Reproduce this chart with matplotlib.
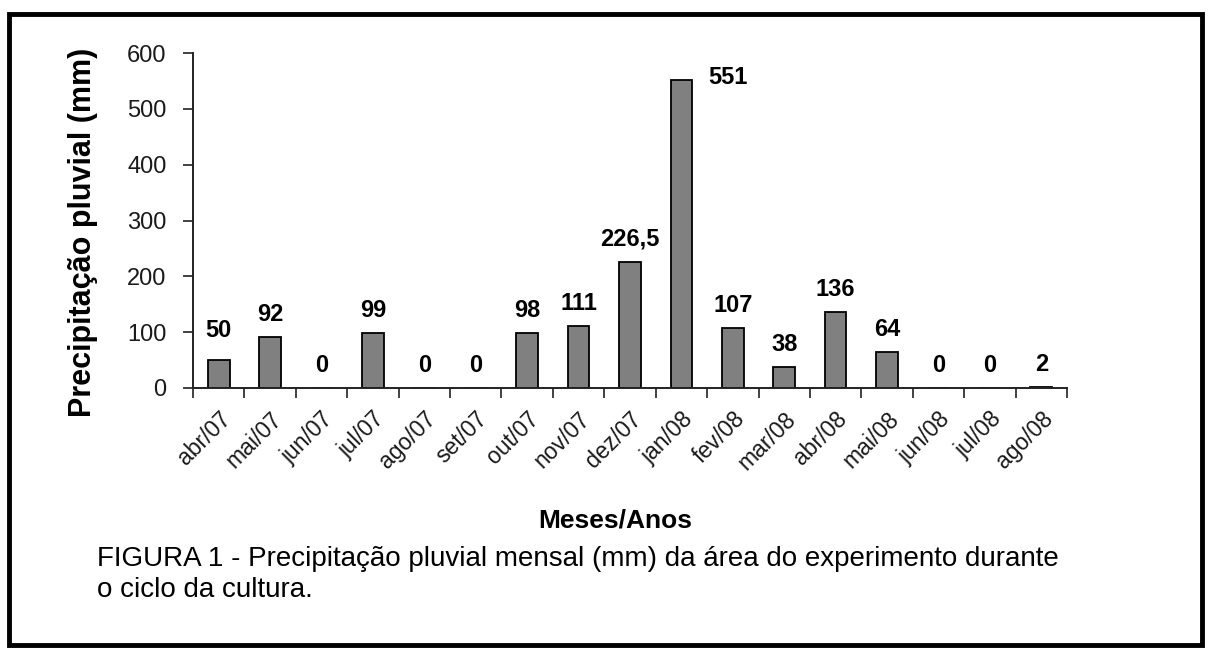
import matplotlib
matplotlib.use("Agg")
import matplotlib.pyplot as plt
from matplotlib.patches import Rectangle

plt.rcParams['font.family'] = ['Liberation Sans', 'DejaVu Sans']

months = ["abr/07", "mai/07", "jun/07", "jul/07", "ago/07", "set/07", "out/07",
          "nov/07", "dez/07", "jan/08", "fev/08", "mar/08", "abr/08", "mai/08",
          "jun/08", "jul/08", "ago/08"]
rain = [50, 92, 0, 99, 0, 0, 98, 111, 226.5, 551, 107, 38, 136, 64, 0, 0, 2]
labels = ["50", "92", "0", "99", "0", "0", "98", "111", "226,5", "551", "107",
          "38", "136", "64", "0", "0", "2"]
yticks = [0, 100, 200, 300, 400, 500, 600]

W, H = 1211, 652
fig = plt.figure(figsize=(W / 100, H / 100), dpi=100)
fig.patch.set_facecolor("white")

# outer frame
fig.patches.append(Rectangle((9 / W, 1 - 645 / H), (1202 - 9) / W, (645 - 14) / H,
                             transform=fig.transFigure, fill=False,
                             edgecolor="black", linewidth=3.5))

ax = fig.add_axes([193 / W, 1 - 388 / H, (1067 - 193) / W, (388 - 53) / H])
x = list(range(len(months)))
ax.bar(x, rain, width=0.42, color="#808080", edgecolor="black", linewidth=1.3, zorder=2)

ax.set_xlim(-0.5, len(months) - 0.5)
ax.set_ylim(0, 600)
ax.set_yticks(yticks)
ax.set_yticklabels([str(v) for v in yticks], fontsize=17, color="#1a1a1a")

bounds = [i - 0.5 for i in range(len(months) + 1)]
ax.set_xticks(bounds)
ax.set_xticklabels([])
ax.set_xticks(x, minor=True)
ax.set_xticklabels(months, minor=True, rotation=45, ha="right", va="top",
                   rotation_mode="anchor", fontsize=16.5, color="#1a1a1a")
ax.tick_params(axis="x", which="minor", length=0, pad=14)
ax.tick_params(axis="x", which="major", length=7, width=1.3, direction="out", color="#333333")
ax.tick_params(axis="y", length=7, width=1.3, direction="out", color="#333333", pad=12)

for s in ["top", "right"]:
    ax.spines[s].set_visible(False)
for s in ["left", "bottom"]:
    ax.spines[s].set_linewidth(1.4)
    ax.spines[s].set_color("#222222")

for xi, v, lab in zip(x, rain, labels):
    if lab == "551":
        ax.annotate(lab, (xi, v), xytext=(19, 2), textcoords="offset points",
                    ha="left", va="center", fontsize=17, fontweight="bold")
    elif lab == "50":
        ax.annotate(lab, (xi, v), xytext=(0, 13), textcoords="offset points",
                    ha="center", va="bottom", fontsize=17, fontweight="bold")
    else:
        ax.annotate(lab, (xi, v), xytext=(0, 8), textcoords="offset points",
                    ha="center", va="bottom", fontsize=17, fontweight="bold")

fig.text(83 / W, 1 - 232 / H, "Precipitação pluvial (mm)", rotation=90,
         ha="center", va="center", fontsize=22, fontweight="bold")
fig.text(615 / W, 1 - 521 / H, "Meses/Anos", ha="center", va="center",
         fontsize=19, fontweight="bold")
fig.text(97 / W, 1 - 559 / H,
         "FIGURA 1 - Precipitação pluvial mensal (mm) da área do experimento durante",
         ha="left", va="center", fontsize=20)
fig.text(97 / W, 1 - 590 / H, "o ciclo da cultura.", ha="left", va="center", fontsize=20)

fig.savefig("out.png", dpi=100)
